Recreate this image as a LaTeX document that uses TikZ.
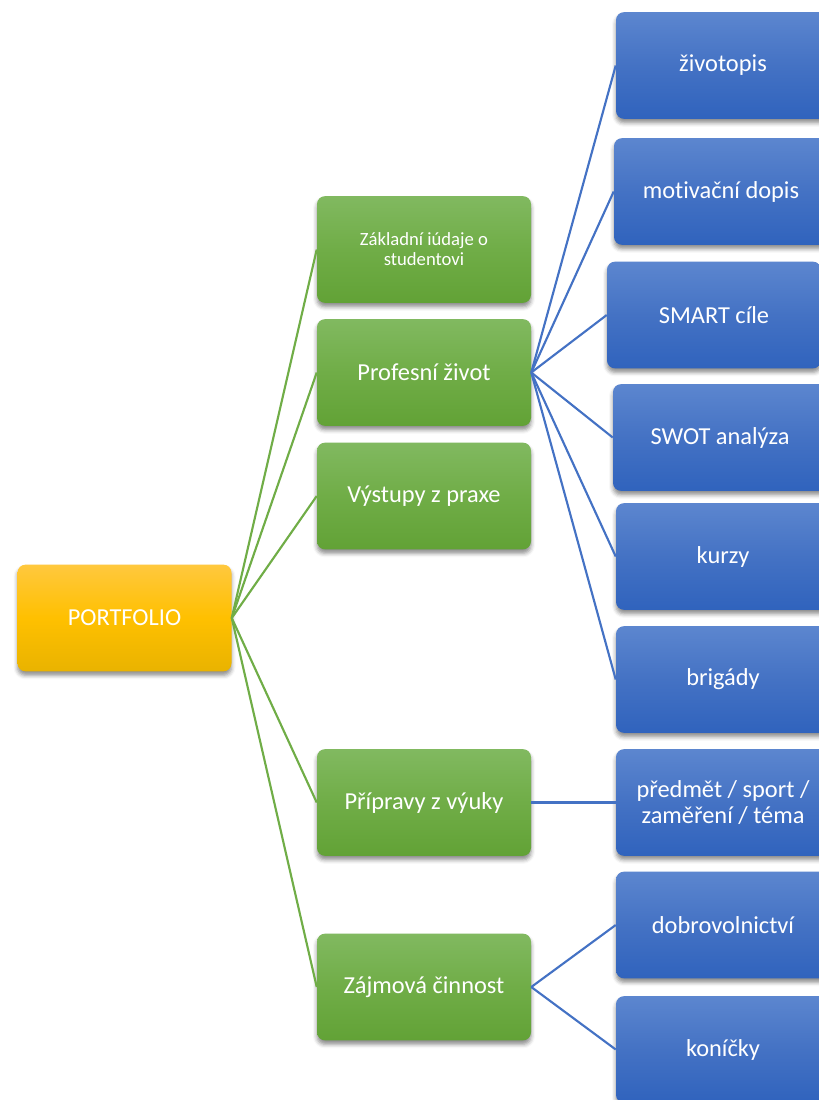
\documentclass[tikz,border=0pt]{standalone}
\usepackage{fontspec}
\setmainfont{Carlito}[Ligatures=NoCommon]
\usetikzlibrary{shadows.blur}
\definecolor{gtop}{HTML}{81B960}
\definecolor{gmid}{HTML}{70AD47}
\definecolor{gbot}{HTML}{62A236}
\definecolor{btop}{HTML}{5C86CF}
\definecolor{bmid}{HTML}{4472C4}
\definecolor{bbot}{HTML}{3063BD}
\definecolor{ytop}{HTML}{FFC83E}
\definecolor{ymid}{HTML}{FFC000}
\definecolor{ybot}{HTML}{E9B300}
\definecolor{gline}{HTML}{70AD47}
\definecolor{bline}{HTML}{4472C4}
\begin{document}
\begin{tikzpicture}[x=0.75pt,y=-0.75pt,
  box/.style={rounded corners=6pt, minimum width=160.5pt, minimum height=80pt,
    text=white, align=center, inner sep=0pt,
    blur shadow={shadow xshift=0pt, shadow yshift=-3pt, shadow blur radius=3pt, shadow opacity=45},
    font=\fontsize{18.3}{20}\selectfont},
  rootbox/.style={box, top color=ytop, bottom color=ybot, middle color=ymid},
  greenbox/.style={box, top color=gtop, bottom color=gbot, middle color=gmid},
  bluebox/.style={box, top color=btop, bottom color=bbot, middle color=bmid},
  gedge/.style={draw=gline, line width=1.6pt},
  bedge/.style={draw=bline, line width=1.6pt}]
\useasboundingbox (0,0) rectangle (818,1100);
% root
\node[rootbox] (root) at (124.5,618) {PORTFOLIO};
% green
\node[greenbox, font=\fontsize{14}{15}\selectfont] (zak) at (424,249.5) {Základní iúdaje o\\studentovi};
\node[greenbox] (prof) at (424,372.5) {Profesní život};
\node[greenbox] (vys) at (424,496) {Výstupy z praxe};
\node[greenbox] (prip) at (424,802.5) {Přípravy z výuky};
\node[greenbox] (zaj) at (424,987) {Zájmová činnost};
% blue
\node[bluebox] (zivot) at (723,65.5) {životopis};
\node[bluebox] (motiv) at (721,191.5) {motivační dopis};
\node[bluebox] (smart) at (714,315) {SMART cíle};
\node[bluebox] (swot) at (720,437.5) {SWOT analýza};
\node[bluebox] (kurzy) at (723,556.5) {kurzy};
\node[bluebox] (brig) at (723,679.5) {brigády};
\node[bluebox] (pred) at (723,802.5) {předmět / sport /\\zaměření / téma};
\node[bluebox] (dobro) at (723,925) {dobrovolnictví};
\node[bluebox] (konic) at (723,1049.5) {koníčky};
% edges
\foreach \t in {zak,prof,vys,prip,zaj}
  \draw[gedge] (root.east) -- (\t.west);
\foreach \t in {zivot,motiv,smart,swot,kurzy,brig}
  \draw[bedge] (prof.east) -- (\t.west);
\draw[bedge] (prip.east) -- (pred.west);
\draw[bedge] (zaj.east) -- (dobro.west);
\draw[bedge] (zaj.east) -- (konic.west);
\end{tikzpicture}
\end{document}
